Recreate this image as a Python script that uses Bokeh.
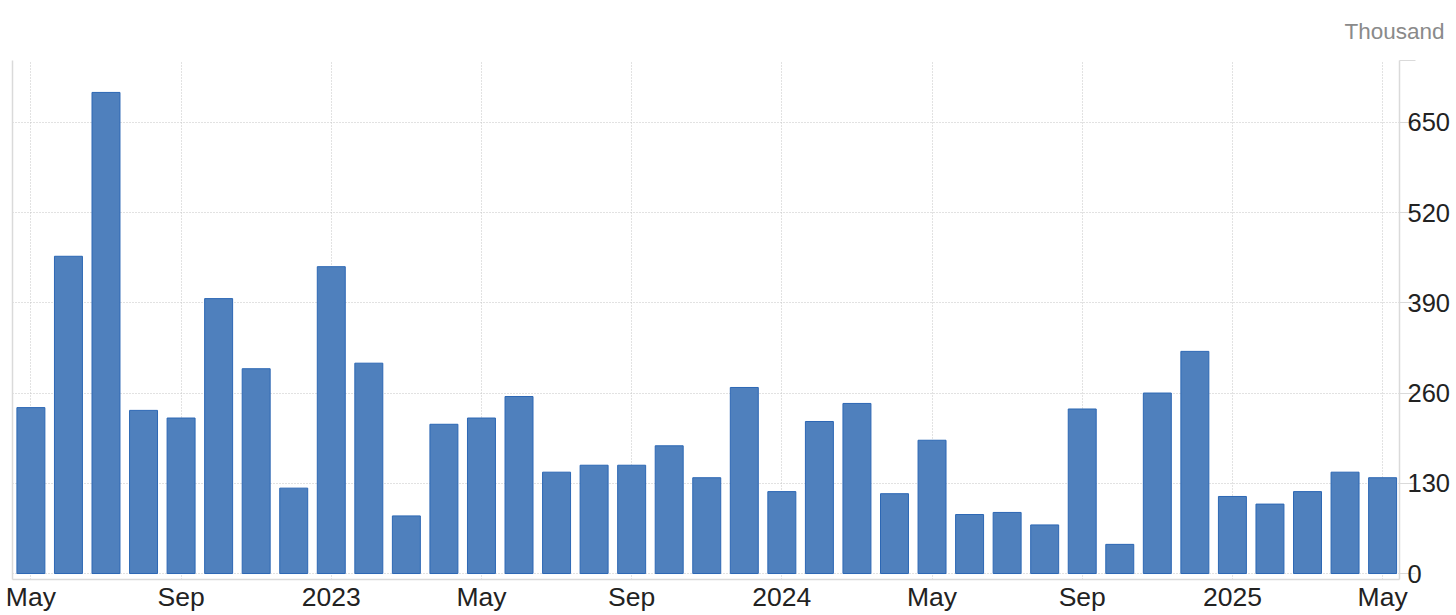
from bokeh.plotting import figure
from bokeh.models import ColumnDataSource, FixedTicker, LinearAxis, Range1d, Title
from bokeh.embed import file_html
from bokeh.resources import INLINE

# ---- data (thousand), monthly May 2022 .. May 2025 ----
months = ["2022-05", "2022-06", "2022-07", "2022-08", "2022-09", "2022-10", "2022-11", "2022-12",
          "2023-01", "2023-02", "2023-03", "2023-04", "2023-05", "2023-06", "2023-07", "2023-08",
          "2023-09", "2023-10", "2023-11", "2023-12", "2024-01", "2024-02", "2024-03", "2024-04",
          "2024-05", "2024-06", "2024-07", "2024-08", "2024-09", "2024-10", "2024-11", "2024-12",
          "2025-01", "2025-02", "2025-03", "2025-04", "2025-05"]
values = [239, 457, 693, 235, 224, 396, 295, 123,
          442, 303, 83, 215, 224, 255, 146, 156,
          156, 184, 138, 268, 118, 219, 245, 115,
          192, 85, 88, 70, 237, 42, 260, 320,
          111, 100, 118, 146, 138]
tick_positions = [0, 4, 8, 12, 16, 20, 24, 28, 32, 36]
tick_labels = ["May", "Sep", "2023", "May", "Sep", "2024", "May", "Sep", "2025", "May"]
y_ticks = [0, 130, 260, 390, 520, 650]
unit_label = "Thousand"

idx = list(range(len(months)))
src = ColumnDataSource(dict(x=idx, top=values, month=months))

Y_TOP = 739
p = figure(width=1456, height=615, output_backend="svg", toolbar_location=None,
           x_range=Range1d(-0.49, 36.45), y_range=Range1d(-8.6, Y_TOP),
           y_axis_location="right", min_border_left=12, min_border_top=60,
           min_border_right=57, min_border_bottom=36)
p.outline_line_color = None
p.background_fill_color = "white"
p.border_fill_color = "white"

p.vbar(x="x", top="top", bottom=0, width=0.745, source=src,
       fill_color="#4f80bd", line_color="#2c67b4", line_width=1)

grid_col = "#c4c4c4"
axis_col = "#dadada"
font = "Liberation Sans"

# x axis
xa = p.xaxis[0]
xa.ticker = FixedTicker(ticks=tick_positions)
xa.major_label_overrides = {t: l for t, l in zip(tick_positions, tick_labels)}
xa.major_tick_line_color = None
xa.minor_tick_line_color = None
xa.axis_line_color = axis_col
xa.axis_line_width = 1.5
xa.major_label_text_font = font
xa.major_label_text_font_size = "26.5px"
xa.major_label_text_color = "#222222"
xa.major_label_standoff = -4

# right y axis
ya = p.yaxis[0]
ya.ticker = FixedTicker(ticks=y_ticks + [Y_TOP])
ya.major_label_overrides = {Y_TOP: ""}
ya.major_tick_out = 16
ya.major_tick_in = 0
ya.major_tick_line_color = axis_col
ya.minor_tick_line_color = None
ya.axis_line_color = axis_col
ya.axis_line_width = 1.5
ya.major_label_text_font = font
ya.major_label_text_font_size = "25.5px"
ya.major_label_text_color = "#222222"
ya.major_label_standoff = -8

# left plain line
la = LinearAxis(ticker=FixedTicker(ticks=[]), major_tick_line_color=None, minor_tick_line_color=None,
                major_label_text_font_size="0px", axis_line_color=axis_col, axis_line_width=1.5)
p.add_layout(la, "left")

p.xgrid.grid_line_color = grid_col
p.xgrid.grid_line_dash = "1 2"
p.ygrid.grid_line_color = grid_col
p.ygrid.grid_line_dash = "1 2"

p.add_layout(Title(text=unit_label, align="right", offset=-45, standoff=33,
                   text_font=font, text_font_size="22.5px", text_font_style="normal",
                   text_color="#8a8a8a"), "above")

open("out.html", "w").write(file_html(p, INLINE))
